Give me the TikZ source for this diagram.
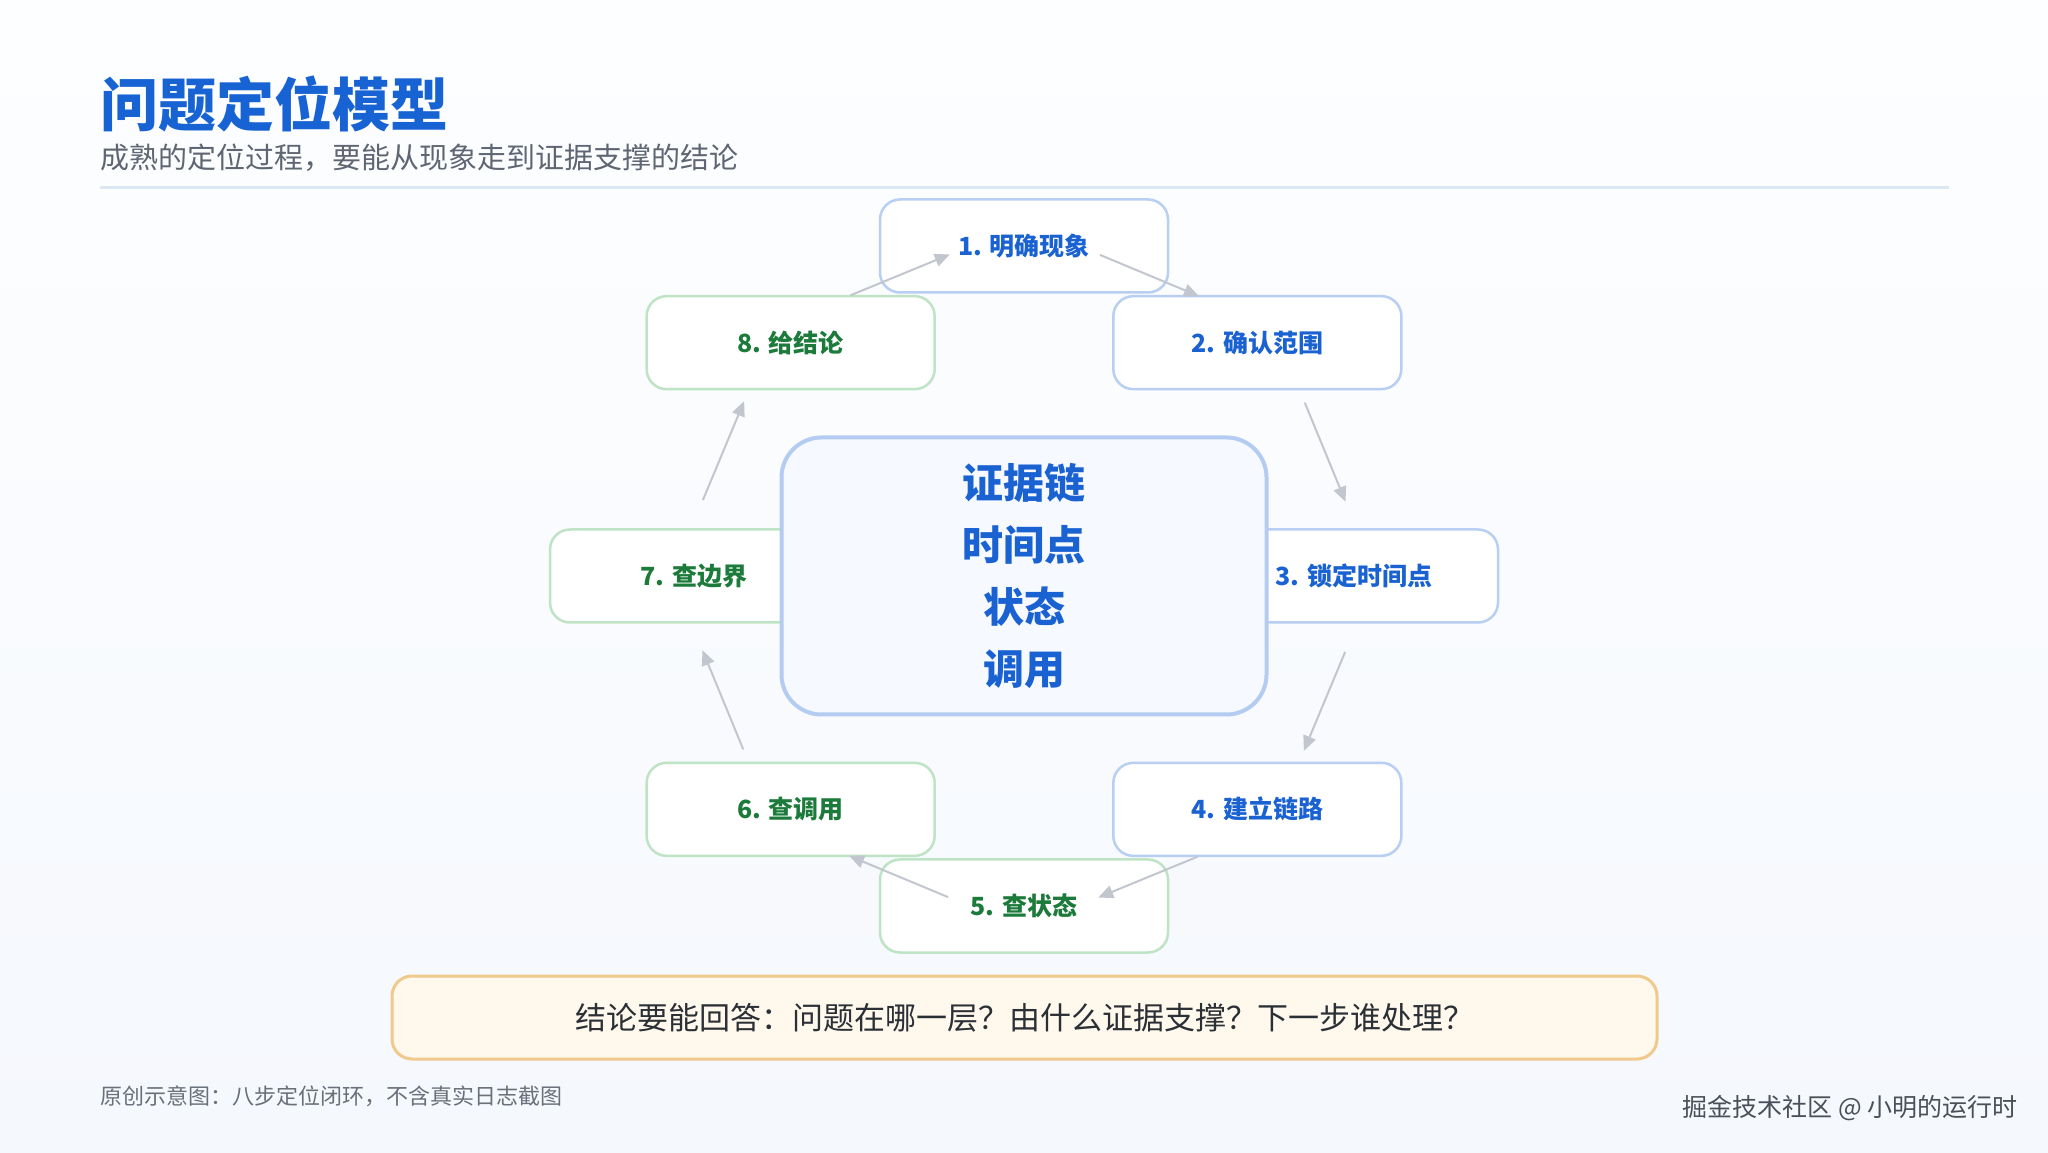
\documentclass[tikz,border=0pt]{standalone}
\usepackage{fontspec}
\setmainfont{Noto Sans CJK SC}
\usetikzlibrary{arrows.meta,calc}
\definecolor{bgtop}{HTML}{FDFEFF}
\definecolor{bgbot}{HTML}{F5F8FD}
\definecolor{titleblue}{HTML}{1763D3}
\definecolor{subgray}{HTML}{5F6673}
\definecolor{rulecol}{HTML}{DCE7F4}
\definecolor{bluetext}{HTML}{1A62D2}
\definecolor{blueborder}{HTML}{B8CEF3}
\definecolor{greentext}{HTML}{1C7A3A}
\definecolor{greenborder}{HTML}{BFE3C5}
\definecolor{arrowcol}{HTML}{C2C6CE}
\definecolor{hubfill}{HTML}{F6F9FF}
\definecolor{hubborder}{HTML}{B5CCF2}
\definecolor{notefill}{HTML}{FFF8EC}
\definecolor{noteborder}{HTML}{F0C98C}
\definecolor{notetext}{HTML}{2B2F36}
\definecolor{footgray}{HTML}{6A707A}
\definecolor{markgray}{HTML}{4A4F58}
\begin{document}
\begin{tikzpicture}[x=1pt,y=1pt,
  stepbase/.style={rounded corners=20pt, fill=white, line width=2.5pt,
    minimum width=288pt, minimum height=93pt, inner sep=0pt,
    font=\fontsize{25}{30}\selectfont\bfseries},
  bluestep/.style={stepbase, draw=blueborder, text=bluetext},
  greenstep/.style={stepbase, draw=greenborder, text=greentext},
  arr/.style={draw=arrowcol, line width=2pt, -{Triangle[length=15pt,width=13pt]}, fill=arrowcol},
  plain/.style={inner sep=0pt, anchor=west}
]
\useasboundingbox (0,0) rectangle (2048,1152);
\shade[top color=bgtop, bottom color=bgbot] (0,0) rectangle (2048,1152);

% header
\node[plain, text=titleblue, font=\fontsize{58}{64}\selectfont\bfseries] (title) at (100,1048) {问题定位模型};
\node[plain, text=subgray, font=\fontsize{29}{34}\selectfont] (subtitle) at (100,994) {成熟的定位过程，要能从现象走到证据支撑的结论};
\coordinate (ruleL) at (100,964);
\coordinate (ruleR) at (1949,964);
\draw[rulecol, line width=3pt] (ruleL) -- (ruleR);

% ring of steps
\coordinate (O) at (1024,576);
\node[bluestep]  (n1) at ($(O)+(90:330)$)   {1. 明确现象};
\node[bluestep]  (n2) at ($(O)+(45:330)$)   {2. 确认范围};
\node[bluestep]  (n3) at ($(O)+(0:330)$)    {3. 锁定时间点};
\node[bluestep]  (n4) at ($(O)+(-45:330)$)  {4. 建立链路};
\node[greenstep] (n5) at ($(O)+(-90:330)$)  {5. 查状态};
\node[greenstep] (n6) at ($(O)+(-135:330)$) {6. 查调用};
\node[greenstep] (n7) at ($(O)+(180:330)$)  {7. 查边界};
\node[greenstep] (n8) at ($(O)+(135:330)$)  {8. 给结论};

% hub
\node[draw=hubborder, fill=hubfill, line width=4pt, rounded corners=40pt,
  minimum width=485pt, minimum height=277pt, inner sep=0pt, align=center,
  text=bluetext, font=\fontsize{41}{62}\selectfont\bfseries] (hub) at (O)
  {证据链\\时间点\\状态\\调用};

% arrows
\draw[arr] ($(O)+(121.7:330)$) -- ($(O)+(103:330)$);
\draw[arr] ($(O)+(76.7:330)$) -- ($(O)+(58:330)$);
\draw[arr] ($(O)+(31.7:330)$) -- ($(O)+(13:330)$);
\draw[arr] ($(O)+(-13.3:330)$) -- ($(O)+(-32:330)$);
\draw[arr] ($(O)+(-58.3:330)$) -- ($(O)+(-77:330)$);
\draw[arr] ($(O)+(-103.3:330)$) -- ($(O)+(-122:330)$);
\draw[arr] ($(O)+(-148.3:330)$) -- ($(O)+(-167:330)$);
\draw[arr] ($(O)+(166.7:330)$) -- ($(O)+(148:330)$);

% note
\node[draw=noteborder, fill=notefill, line width=3pt, rounded corners=20pt,
  minimum width=1265pt, minimum height=83pt, inner sep=0pt, text=notetext,
  font=\fontsize{31}{35}\selectfont] (note) at (1024.5,134.5)
  {结论要能回答：问题在哪一层？由什么证据支撑？下一步谁处理？};

% footers
\node[plain, text=footgray, font=\fontsize{22}{26}\selectfont] (foot) at (100,56) {原创示意图：八步定位闭环，不含真实日志截图};
\node[inner sep=0pt, anchor=east, text=markgray, font=\fontsize{25}{28}\selectfont] (mark) at (2018,44) {掘金技术社区 @ 小明的运行时};
\end{tikzpicture}
\end{document}
